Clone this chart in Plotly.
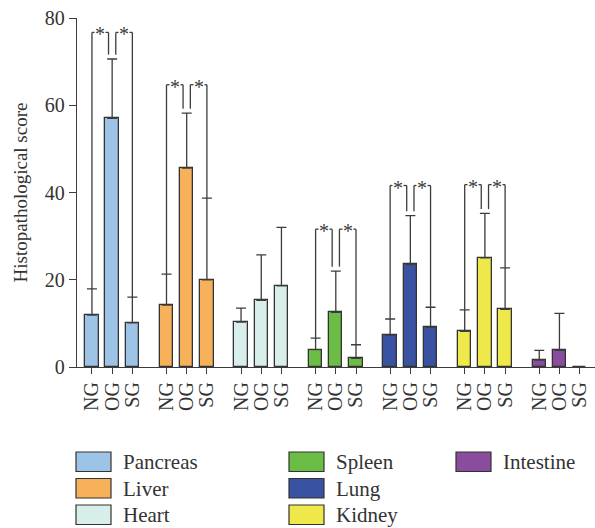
import plotly.graph_objects as go

# ---------------- data ----------------
organs = ["Pancreas", "Liver", "Heart", "Spleen", "Lung", "Kidney", "Intestine"]
groups = ["NG", "OG", "SG"]
means = {
    "Pancreas":  [11.9, 57.0, 10.1],
    "Liver":     [14.2, 45.6, 20.0],
    "Heart":     [10.3, 15.3, 18.6],
    "Spleen":    [4.0, 12.5, 2.0],
    "Lung":      [7.3, 23.5, 9.1],
    "Kidney":    [8.2, 25.0, 13.2],
    "Intestine": [1.6, 3.8, 0.0],
}
err_up = {
    "Pancreas":  [6.0, 13.6, 5.9],
    "Liver":     [7.1, 12.6, 18.7],
    "Heart":     [3.2, 10.4, 13.4],
    "Spleen":    [2.6, 9.5, 3.1],
    "Lung":      [3.7, 11.2, 4.6],
    "Kidney":    [4.9, 10.2, 9.5],
    "Intestine": [2.2, 8.5, 0.0],
}
# significance bracket level (None = no bracket)
sig_level = {
    "Pancreas": 76.7, "Liver": 64.7, "Heart": None, "Spleen": 31.6,
    "Lung": 41.6, "Kidney": 41.8, "Intestine": None,
}
colors = {
    "Pancreas": "#9dc3e6", "Liver": "#f8b15b", "Heart": "#d8eeea",
    "Spleen": "#6cbd45", "Lung": "#3a52a2", "Kidney": "#eee84a",
    "Intestine": "#8a4d9e",
}
y_ticks = [0, 20, 40, 60, 80]

# ---------------- layout constants ----------------
FONT = "Liberation Serif"
INK = "#3c3c3c"
TXT = "#333333"
GROUP_STEP = 3.69
BAR_W = 0.66
W, H = 595, 528
ML, MR, MT, MB = 77, 0, 18, 161

fig = go.Figure()
tickvals, ticktext = [], []
for i, org in enumerate(organs):
    xs = [i * GROUP_STEP + j for j in range(3)]
    tickvals += xs
    ticktext += groups
    fig.add_trace(go.Bar(
        x=xs, y=means[org], width=BAR_W, name=org, showlegend=False,
        marker=dict(color=colors[org], line=dict(color=TXT, width=1.3)),
        error_y=dict(type="data", symmetric=False, array=err_up[org],
                     arrayminus=[0, 0, 0], color=INK, thickness=1.3, width=5),
    ))
    lvl = sig_level[org]
    if lvl is not None:
        tops = [m + e for m, e in zip(means[org], err_up[org])]
        off = 0.18
        segs = [
            (xs[0], tops[0], xs[0], lvl),
            (xs[0], lvl, xs[1] - off, lvl),
            (xs[1] - off, lvl, xs[1] - off, tops[1] + 1.0),
            (xs[1] + off, tops[1] + 1.0, xs[1] + off, lvl),
            (xs[1] + off, lvl, xs[2], lvl),
            (xs[2], lvl, xs[2], tops[2]),
        ]
        for x0, y0, x1, y1 in segs:
            fig.add_shape(type="line", xref="x", yref="y", x0=x0, y0=y0, x1=x1, y1=y1,
                          line=dict(color=INK, width=1.3))
        for xa, xb in [(xs[0], xs[1] - off), (xs[1] + off, xs[2])]:
            fig.add_annotation(x=(xa + xb) / 2, y=lvl, xref="x", yref="y", text="*",
                               showarrow=False, bgcolor="white", borderpad=0,
                               font=dict(family=FONT, size=20, color=INK), yshift=-2)

# ---------------- legend (manual, 3 columns) ----------------
pw, ph = W - ML - MR, H - MT - MB
def px(x): return (x - ML) / pw
def py(y): return (H - MB - y) / ph

legend_cols = [[0, 1, 2], [3, 4, 5], [6]]
col_x = [76, 289, 456]
row_y = [452, 478.5, 505]
for c, idxs in enumerate(legend_cols):
    for r, idx in enumerate(idxs):
        org = organs[idx]
        fig.add_shape(type="rect", xref="paper", yref="paper",
                      x0=px(col_x[c]), x1=px(col_x[c] + 35),
                      y0=py(row_y[r]), y1=py(row_y[r] + 19.5),
                      fillcolor=colors[org], line=dict(color=TXT, width=1.2))
        fig.add_annotation(xref="paper", yref="paper", x=px(col_x[c] + 45),
                           y=py(row_y[r] + 10), text=org, showarrow=False,
                           xanchor="left", yanchor="middle",
                           font=dict(family=FONT, size=21, color=TXT))

fig.update_layout(
    width=W, height=H, margin=dict(l=ML, r=MR, t=MT, b=MB, autoexpand=False),
    plot_bgcolor="white", paper_bgcolor="white", bargap=0,
    font=dict(family=FONT, color=TXT),
    xaxis=dict(range=[-0.74, 24.9], tickvals=tickvals, ticktext=ticktext,
               tickangle=-90, ticks="outside", ticklen=6, tickcolor=INK,
               tickwidth=1.3, showline=True, linecolor=INK, linewidth=1.3,
               showgrid=False, zeroline=False, automargin=False,
               tickfont=dict(family=FONT, size=20, color=TXT)),
    yaxis=dict(range=[0, 80], tickvals=y_ticks, ticks="outside", ticklen=7,
               tickcolor=INK, tickwidth=1.3, showline=True, linecolor=INK,
               linewidth=1.3, showgrid=False, zeroline=False, automargin=False,
               tickfont=dict(family=FONT, size=20, color=TXT),
               title=dict(text="Histopathological score", standoff=12,
                          font=dict(family=FONT, size=19, color=TXT))),
)

fig.write_html("out.html", config={"displayModeBar": False},
               post_script="document.body.style.margin='0px';document.body.style.overflow='hidden';")
